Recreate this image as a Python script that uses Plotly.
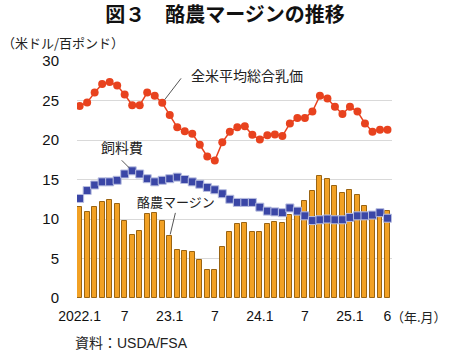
import plotly.graph_objects as go

months = [f"{y}.{m}" for y in range(2022, 2026) for m in range(1, 13)][:42]

margin = [11.5, 10.9, 11.5, 12.2, 12.4, 11.9, 9.8, 8.0, 8.5, 10.6, 10.8, 9.7,
          7.8, 6.1, 6.0, 5.8, 4.8, 3.6, 3.5, 6.4, 8.4, 9.4, 9.5, 8.4,
          8.4, 9.4, 9.6, 9.5, 10.5, 10.6, 12.3, 13.6, 15.5, 15.1, 14.2, 13.3,
          13.7, 13.1, 11.6, 10.6, 10.6, 11.0]
feed = [12.6, 13.6, 14.3, 14.7, 14.7, 14.9, 15.7, 16.1, 15.7, 15.1, 14.7, 14.9,
        15.1, 15.3, 15.0, 14.7, 14.4, 14.0, 13.7, 13.2, 12.5, 12.1, 12.1, 12.1,
        11.5, 11.0, 10.9, 10.8, 11.4, 11.0, 10.4, 9.8, 9.9, 10.0, 9.9, 9.9,
        10.2, 10.4, 10.4, 10.5, 10.8, 10.1]
milk = [24.3, 24.75, 26.0, 27.1, 27.35, 26.9, 25.75, 24.4, 24.4, 26.0, 25.6, 24.7,
        23.15, 21.6, 21.1, 20.8, 19.4, 17.9, 17.4, 19.7, 21.05, 21.6, 21.75, 20.65,
        20.05, 20.6, 20.7, 20.5, 22.1, 22.8, 22.8, 23.6, 25.6, 25.25, 24.2, 23.3,
        24.2, 23.6, 22.1, 21.05, 21.3, 21.3]
tick_idx = [0, 6, 12, 18, 24, 30, 36, 41]
tick_text = ["2022.1", "7", "23.1", "7", "24.1", "7", "25.1", "6"]

x = list(range(len(months)))
FONT = "Liberation Sans, Arial, Noto Sans CJK JP"
JP = "Noto Sans CJK JP, sans-serif"

fig = go.Figure()
fig.add_trace(go.Bar(x=x, y=margin, width=0.66,
                     marker=dict(color="#F2A124", line=dict(color="#9A6412", width=1)),
                     hovertext=months, name="酪農マージン"))
fig.add_trace(go.Scatter(x=x, y=feed, mode="lines+markers",
                         line=dict(color="#3A46A6", width=1.5),
                         marker=dict(symbol="square", size=8, color="#3A46A6",
                                     line=dict(color="#B8BEE0", width=1)),
                         hovertext=months, name="飼料費"))
fig.add_trace(go.Scatter(x=x, y=milk, mode="lines+markers",
                         line=dict(color="#E8421E", width=1.5),
                         marker=dict(symbol="circle", size=8, color="#E8421E"),
                         hovertext=months, name="全米平均総合乳価"))

ann = []
ann.append(dict(x=11, y=milk[11], xref="x", yref="y", text="", showarrow=True,
                arrowhead=0, arrowwidth=1, arrowcolor="#555555", ax=20, ay=-26, standoff=4))
ann.append(dict(x=7, y=feed[7], xref="x", yref="y", text="", showarrow=True,
                arrowhead=0, arrowwidth=1, arrowcolor="#555555", ax=-12, ay=-12, standoff=4))
ann.append(dict(x=12, y=margin[12], xref="x", yref="y", text="", showarrow=True,
                arrowhead=0, arrowwidth=1, arrowcolor="#555555", ax=6, ay=-25, standoff=2))
ann.append(dict(x=14.6, y=28.2, xref="x", yref="y", text="全米平均総合乳価", showarrow=False,
                xanchor="left", font=dict(family=JP, size=14, color="#222222")))
ann.append(dict(x=5.6, y=19.15, xref="x", yref="y", text="飼料費", showarrow=False,
                xanchor="center", font=dict(family=JP, size=14, color="#222222")))
ann.append(dict(x=12.8, y=12.2, xref="x", yref="y", text="酪農マージン", showarrow=False,
                xanchor="center", font=dict(family=JP, size=13, color="#222222")))
ann.append(dict(x=-0.244, y=1.076, xref="paper", yref="paper", text="（米ドル/百ポンド）",
                showarrow=False, xanchor="left", yanchor="middle",
                font=dict(family=JP, size=13, color="#222222")))
ann.append(dict(x=0.99, y=-0.076, xref="paper", yref="paper", text="（年.月）",
                showarrow=False, xanchor="left", yanchor="middle",
                font=dict(family=JP, size=13, color="#222222")))
ann.append(dict(x=-0.013, y=-0.19, xref="paper", yref="paper", text="資料：USDA/FSA",
                showarrow=False, xanchor="left", yanchor="middle",
                font=dict(family="Liberation Sans, Noto Sans CJK JP", size=14, color="#222222")))

fig.update_layout(
    width=450, height=353,
    margin=dict(l=77, r=58, t=61, b=55, pad=0),
    paper_bgcolor="white", plot_bgcolor="white",
    showlegend=False, bargap=0,
    title=dict(text="<b>図３　酪農マージンの推移</b>", x=0.5, xanchor="center",
               y=1 - 15 / 353, yanchor="middle", yref="container",
               font=dict(family=JP, size=20, color="#111111")),
    annotations=ann,
    xaxis=dict(range=[-0.35, 41.6], tickmode="array", tickvals=tick_idx, ticktext=tick_text,
               showgrid=False, zeroline=False, showline=False,
               ticks="outside", ticklen=5, tickcolor="rgba(0,0,0,0)",
               tickfont=dict(family=FONT, size=14, color="#111111")),
    yaxis=dict(range=[0, 30], dtick=5, showgrid=True, gridcolor="#D9D9D9", gridwidth=1,
               zeroline=False, showline=False,
               ticks="outside", ticklen=14, tickcolor="rgba(0,0,0,0)",
               tickfont=dict(family=FONT, size=15, color="#111111")),
)

fig.write_html("out.html")
